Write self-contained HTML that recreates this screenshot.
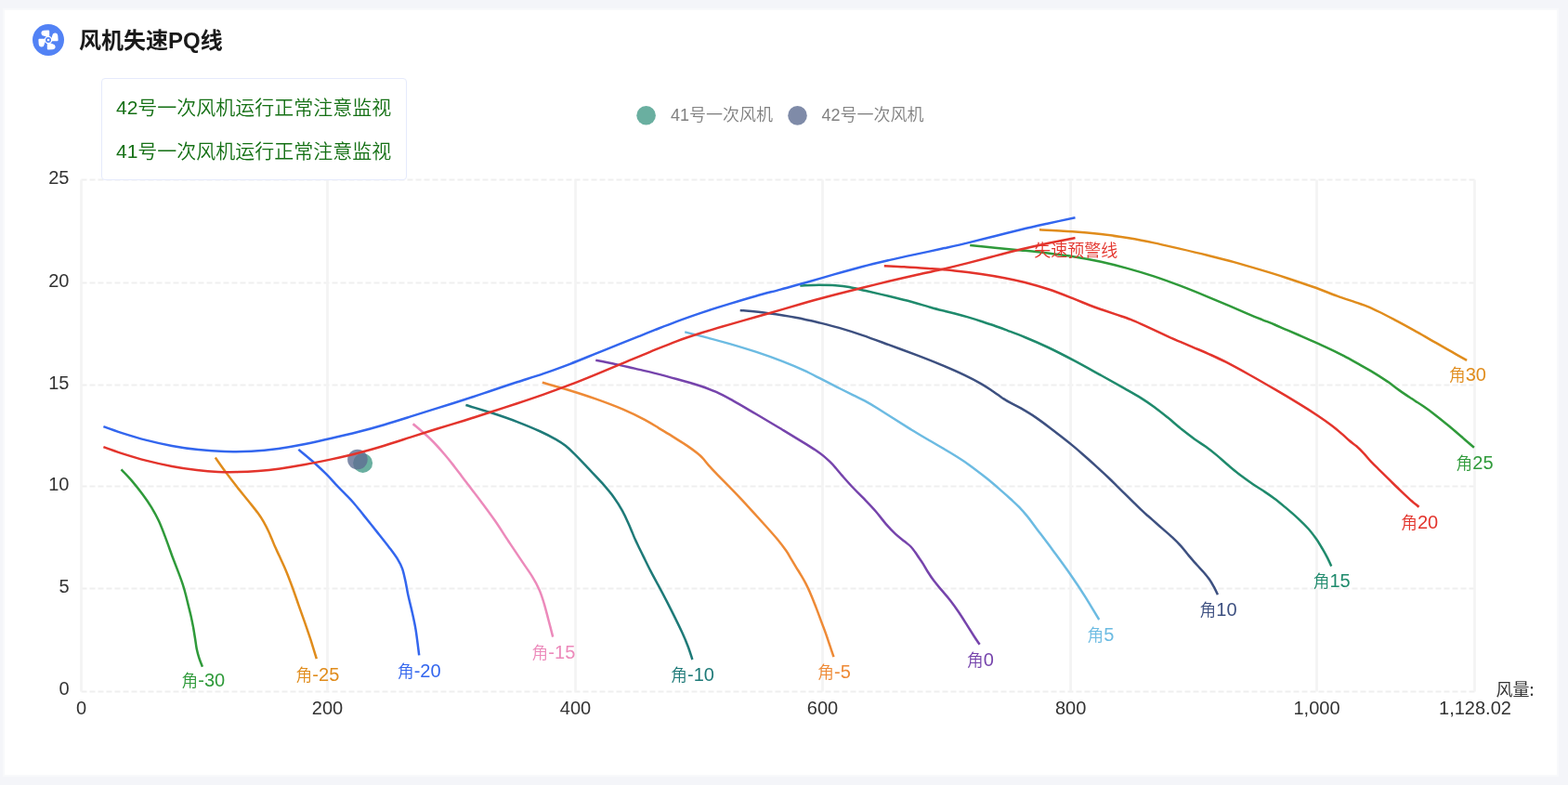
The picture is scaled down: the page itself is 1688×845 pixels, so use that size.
<!DOCTYPE html>
<html><head><meta charset="utf-8"><style>
*{margin:0;padding:0;box-sizing:border-box}
html,body{width:1688px;height:845px;overflow:hidden;background:#f4f5f9}
.card{position:absolute;left:3px;top:9px;width:1675px;height:827px;background:#fff;border:2px solid #f8f9fb}
.title{position:absolute;left:85px;top:27.8px;font:bold 24px/32px "Liberation Sans","Noto Sans CJK SC",sans-serif;color:#1a1a1a;letter-spacing:0}
.warn{position:absolute;left:109px;top:84px;width:328.5px;height:109.5px;border:1.5px solid #e5eafc;border-radius:4px;background:#fff}
.warn div{position:absolute;left:15px;font:350 21px/28px "Liberation Sans","Noto Sans CJK SC",sans-serif;color:#157015;white-space:nowrap}
svg{position:absolute;left:0;top:0}
.ax{font:20px "Liberation Sans","Noto Sans CJK SC",sans-serif;fill:#333}
.axn{font:18px "Noto Sans CJK SC","Liberation Sans",sans-serif;fill:#333}
.lb{font:20px "Liberation Sans","Noto Sans CJK SC",sans-serif}
.lbc{font-size:18px;font-family:"Noto Sans CJK SC","Liberation Sans",sans-serif;font-weight:350}
.lg{font:350 18px "Liberation Sans","Noto Sans CJK SC",sans-serif;fill:#808080}
</style></head><body>
<div class="card"></div>
<svg width="1688" height="845" viewBox="0 0 1688 845">
<circle cx="52" cy="43" r="17" fill="#5282f5"/>
<g fill="#fff" transform="translate(52 43)">
<path d="M1.2 -3.2 L1.2 -9.6 Q1.2 -10.6 0 -10.6 L-4.6 -10.3 Q-7.8 -10 -7.6 -7 Q-7.4 -4.6 -4.6 -4.2 Q-2 -3.9 -1.4 -2.6 Z" transform="rotate(0)"/>
<path d="M1.2 -3.2 L1.2 -9.6 Q1.2 -10.6 0 -10.6 L-4.6 -10.3 Q-7.8 -10 -7.6 -7 Q-7.4 -4.6 -4.6 -4.2 Q-2 -3.9 -1.4 -2.6 Z" transform="rotate(90)"/>
<path d="M1.2 -3.2 L1.2 -9.6 Q1.2 -10.6 0 -10.6 L-4.6 -10.3 Q-7.8 -10 -7.6 -7 Q-7.4 -4.6 -4.6 -4.2 Q-2 -3.9 -1.4 -2.6 Z" transform="rotate(180)"/>
<path d="M1.2 -3.2 L1.2 -9.6 Q1.2 -10.6 0 -10.6 L-4.6 -10.3 Q-7.8 -10 -7.6 -7 Q-7.4 -4.6 -4.6 -4.2 Q-2 -3.9 -1.4 -2.6 Z" transform="rotate(270)"/>
<circle r="4.3"/><circle r="3" fill="#5282f5"/><circle r="1.3"/>
</g>
<line x1="87.5" x2="1587.5" y1="744.5" y2="744.5" stroke="#efefef" stroke-width="2" stroke-dasharray="6 3"/>
<line x1="87.5" x2="1587.5" y1="633.4" y2="633.4" stroke="#efefef" stroke-width="2" stroke-dasharray="6 3"/>
<line x1="87.5" x2="1587.5" y1="523.4" y2="523.4" stroke="#efefef" stroke-width="2" stroke-dasharray="6 3"/>
<line x1="87.5" x2="1587.5" y1="414.4" y2="414.4" stroke="#efefef" stroke-width="2" stroke-dasharray="6 3"/>
<line x1="87.5" x2="1587.5" y1="304.4" y2="304.4" stroke="#efefef" stroke-width="2" stroke-dasharray="6 3"/>
<line x1="87.5" x2="1587.5" y1="193.4" y2="193.4" stroke="#efefef" stroke-width="2" stroke-dasharray="6 3"/>
<line x1="87.5" x2="87.5" y1="193.4" y2="744.5" stroke="#f3f3f3" stroke-width="2.6"/>
<line x1="352.5" x2="352.5" y1="193.4" y2="744.5" stroke="#f3f3f3" stroke-width="2.6"/>
<line x1="619.5" x2="619.5" y1="193.4" y2="744.5" stroke="#f3f3f3" stroke-width="2.6"/>
<line x1="885.5" x2="885.5" y1="193.4" y2="744.5" stroke="#f3f3f3" stroke-width="2.6"/>
<line x1="1152.6" x2="1152.6" y1="193.4" y2="744.5" stroke="#f3f3f3" stroke-width="2.6"/>
<line x1="1417.5" x2="1417.5" y1="193.4" y2="744.5" stroke="#f3f3f3" stroke-width="2.6"/>
<line x1="1587.5" x2="1587.5" y1="193.4" y2="744.5" stroke="#f3f3f3" stroke-width="2.6"/>
<text x="74.5" y="747.5" text-anchor="end" class="ax">0</text>
<text x="74.5" y="637.6" text-anchor="end" class="ax">5</text>
<text x="74.5" y="527.6" text-anchor="end" class="ax">10</text>
<text x="74.5" y="418.6" text-anchor="end" class="ax">15</text>
<text x="74.5" y="308.6" text-anchor="end" class="ax">20</text>
<text x="74.5" y="197.6" text-anchor="end" class="ax">25</text>
<text x="87.5" y="768.7" text-anchor="middle" class="ax">0</text>
<text x="352.5" y="768.7" text-anchor="middle" class="ax">200</text>
<text x="619.5" y="768.7" text-anchor="middle" class="ax">400</text>
<text x="885.5" y="768.7" text-anchor="middle" class="ax">600</text>
<text x="1152.6" y="768.7" text-anchor="middle" class="ax">800</text>
<text x="1417.5" y="768.7" text-anchor="middle" class="ax">1,000</text>
<text x="1588" y="768.7" text-anchor="middle" class="ax">1,128.02</text>
<text x="1610.5" y="748.5" class="axn">风量:</text>
<circle cx="390.6" cy="498.4" r="10.5" fill="#459b88" fill-opacity="0.8"/>
<circle cx="384.9" cy="494.5" r="10.8" fill="#5f6e92" fill-opacity="0.8"/>
<path d="M130.5 505.3C132.5 507.4 138.6 513.6 142.4 518.1C146.2 522.6 150.1 527.5 153.6 532.2C157.1 536.9 160.3 541.5 163.2 546.3C166.1 551.1 168.6 555.6 171.1 561.1C173.6 566.6 175.9 572.8 178.3 579.1C180.7 585.4 183.2 592.7 185.4 598.7C187.7 604.8 189.9 610.4 191.8 615.4C193.7 620.4 195.2 624.4 196.6 628.6C198.0 632.8 199.1 636.8 200.1 640.7C201.1 644.6 201.9 648.0 202.8 651.8C203.7 655.5 204.7 659.2 205.6 663.2C206.5 667.2 207.4 671.9 208.2 676.0C208.9 680.1 209.5 684.0 210.1 687.7C210.7 691.4 211.0 694.8 211.7 698.2C212.4 701.6 213.3 705.0 214.3 708.2C215.3 711.5 217.3 716.1 217.9 717.7" fill="none" stroke="#2f9a3a" stroke-width="2.5" stroke-linejoin="round" stroke-linecap="butt"/>
<path d="M231.8 492.6C233.6 495.1 238.5 502.2 242.3 507.3C246.1 512.4 250.3 517.9 254.5 523.3C258.7 528.7 263.8 534.7 267.6 539.5C271.4 544.3 274.8 548.4 277.5 552.1C280.2 555.8 282.0 558.6 283.9 561.9C285.8 565.2 287.6 568.9 289.1 572.0C290.6 575.1 291.6 577.8 292.8 580.6C294.0 583.4 294.7 585.5 296.1 588.6C297.5 591.7 299.1 594.9 301.0 599.1C302.9 603.3 305.3 608.3 307.6 613.7C309.9 619.1 312.3 625.5 314.6 631.7C316.9 637.9 319.1 644.5 321.3 650.8C323.5 657.1 325.7 663.1 327.9 669.4C330.1 675.7 332.2 681.8 334.4 688.4C336.5 695.0 339.7 705.6 340.8 709.1" fill="none" stroke="#e08c1c" stroke-width="2.5" stroke-linejoin="round" stroke-linecap="butt"/>
<path d="M321.3 483.9C324.2 486.3 333.4 493.8 338.7 498.5C343.9 503.2 348.9 507.9 352.8 511.9C356.7 515.9 359.1 518.9 362.2 522.2C365.3 525.5 368.4 528.4 371.5 531.6C374.6 534.8 377.3 537.4 380.6 541.2C383.9 545.0 387.2 549.3 391.5 554.6C395.8 559.9 401.6 567.2 406.3 573.1C411.0 579.0 415.9 585.1 419.5 589.9C423.1 594.7 425.6 598.0 427.9 601.7C430.1 605.4 431.6 608.0 433.0 611.9C434.4 615.8 435.2 620.0 436.3 624.8C437.4 629.6 438.2 635.3 439.4 640.8C440.6 646.3 442.0 651.4 443.4 657.6C444.8 663.8 446.3 670.1 447.6 678.1C448.9 686.1 450.6 700.9 451.2 705.4" fill="none" stroke="#3366ee" stroke-width="2.5" stroke-linejoin="round" stroke-linecap="butt"/>
<path d="M444.6 456.2C447.7 458.9 457.6 467.0 463.3 472.5C469.0 478.0 474.3 484.1 478.7 489.2C483.1 494.3 485.8 497.9 489.7 502.9C493.6 507.9 497.4 513.1 502.1 519.3C506.8 525.5 512.7 533.0 517.9 540.0C523.1 547.0 528.5 554.2 533.4 561.3C538.3 568.4 542.9 575.8 547.5 582.7C552.1 589.6 556.8 596.6 561.0 602.9C565.2 609.2 569.5 615.0 572.8 620.3C576.1 625.6 578.5 630.0 580.6 634.9C582.8 639.8 584.1 644.3 585.7 649.6C587.3 654.9 588.7 660.7 590.3 666.7C591.9 672.7 594.4 682.5 595.2 685.6" fill="none" stroke="#ec8abb" stroke-width="2.5" stroke-linejoin="round" stroke-linecap="butt"/>
<path d="M501.4 436.0C506.0 437.4 519.6 441.3 528.8 444.3C538.0 447.3 548.0 450.7 556.8 454.1C565.6 457.5 574.8 461.3 581.8 464.5C588.8 467.7 594.2 470.6 598.7 473.1C603.2 475.7 605.4 477.1 608.8 479.8C612.2 482.5 614.8 485.1 618.9 489.1C623.0 493.1 628.2 498.7 633.1 503.9C638.0 509.1 643.8 515.0 648.4 520.2C653.0 525.5 657.3 530.5 660.9 535.4C664.5 540.3 667.5 545.3 670.0 549.9C672.5 554.5 674.5 558.9 676.2 562.7C678.0 566.5 679.3 569.9 680.5 572.8C681.7 575.7 682.4 577.6 683.5 580.0C684.6 582.4 685.4 584.1 686.9 587.3C688.4 590.4 690.4 594.3 692.6 598.9C694.9 603.5 697.6 609.2 700.4 614.6C703.2 620.0 706.4 625.8 709.4 631.3C712.4 636.8 715.3 642.4 718.1 647.9C720.9 653.4 723.7 658.9 726.4 664.4C729.1 669.9 731.8 675.4 734.2 680.6C736.6 685.8 738.7 690.8 740.6 695.7C742.5 700.6 744.6 707.6 745.4 710.0" fill="none" stroke="#1e7a78" stroke-width="2.5" stroke-linejoin="round" stroke-linecap="butt"/>
<path d="M583.8 411.8C588.7 413.2 603.6 417.2 613.3 420.2C623.0 423.2 632.4 426.2 642.0 429.6C651.6 433.0 662.0 436.9 670.7 440.6C679.4 444.3 687.6 448.4 694.1 451.8C700.6 455.2 704.5 458.0 709.6 461.1C714.7 464.2 719.8 467.2 724.9 470.4C730.0 473.6 735.9 477.2 740.2 480.1C744.5 483.0 747.9 485.6 750.6 487.8C753.4 490.0 754.7 491.2 756.7 493.4C758.8 495.6 760.0 497.6 762.9 500.8C765.8 504.1 769.7 508.2 774.2 512.9C778.7 517.5 784.4 523.1 789.7 528.7C795.1 534.3 800.8 540.3 806.3 546.3C811.8 552.3 817.6 558.7 822.8 564.5C828.0 570.3 833.4 576.3 837.3 581.0C841.2 585.7 843.9 589.4 846.3 592.8C848.7 596.2 849.7 598.4 851.5 601.3C853.3 604.2 855.1 607.3 856.9 610.3C858.7 613.3 860.6 616.2 862.3 619.1C864.0 622.0 865.6 624.5 867.3 627.9C869.0 631.3 870.9 635.1 872.7 639.4C874.6 643.7 876.5 648.7 878.4 653.6C880.3 658.5 882.2 663.7 884.0 668.6C885.8 673.5 887.8 678.5 889.4 683.1C891.0 687.7 892.4 692.1 893.8 696.1C895.1 700.1 896.9 705.4 897.5 707.2" fill="none" stroke="#ee8a36" stroke-width="2.5" stroke-linejoin="round" stroke-linecap="butt"/>
<path d="M641.3 387.7C644.9 388.4 656.2 390.6 663.2 392.1C670.2 393.6 676.5 395.1 683.2 396.6C689.9 398.2 695.8 399.5 703.3 401.4C710.8 403.3 720.1 405.7 728.4 408.0C736.7 410.3 746.2 413.0 753.3 415.3C760.4 417.6 765.1 419.3 771.0 421.9C776.9 424.5 781.7 427.2 788.8 431.1C795.9 435.0 804.7 440.3 813.6 445.5C822.5 450.7 833.4 457.3 842.1 462.5C850.8 467.7 859.6 473.1 865.8 476.9C871.9 480.7 875.6 482.9 879.0 485.2C882.4 487.5 883.9 488.6 886.3 490.6C888.7 492.6 891.3 495.0 893.6 497.2C895.9 499.4 897.8 501.6 899.9 504.0C902.0 506.4 903.7 508.6 906.5 511.9C909.3 515.1 913.0 519.4 916.9 523.5C920.8 527.6 925.4 531.9 929.7 536.4C934.0 540.9 938.6 545.6 942.6 550.2C946.6 554.8 950.2 560.0 953.8 564.1C957.4 568.2 960.8 571.8 964.1 574.9C967.4 578.0 971.0 580.5 973.8 582.8C976.5 585.1 978.7 586.5 980.6 588.5C982.5 590.5 983.8 592.4 985.3 594.5C986.8 596.6 988.2 598.8 989.7 600.9C991.2 603.0 992.5 604.9 994.0 607.3C995.5 609.7 996.9 612.5 998.8 615.5C1000.7 618.5 1002.8 621.8 1005.3 625.1C1007.8 628.4 1010.8 631.8 1013.8 635.4C1016.8 639.0 1020.0 642.5 1023.1 646.5C1026.2 650.5 1029.3 654.8 1032.3 659.2C1035.3 663.6 1038.5 668.8 1041.2 673.1C1043.9 677.4 1046.5 681.5 1048.7 685.0C1050.9 688.5 1053.6 692.3 1054.6 693.8" fill="none" stroke="#7644ac" stroke-width="2.5" stroke-linejoin="round" stroke-linecap="butt"/>
<path d="M737.2 357.4C740.8 358.3 750.9 360.8 759.0 362.9C767.1 365.0 776.4 367.4 785.6 370.1C794.8 372.8 804.9 375.8 814.3 378.9C823.7 382.0 833.7 385.6 842.2 388.9C850.7 392.2 858.7 395.6 865.4 398.7C872.1 401.8 876.6 404.2 882.5 407.2C888.4 410.2 894.9 413.6 900.9 416.6C906.9 419.6 913.5 422.8 918.5 425.3C923.5 427.8 926.5 429.1 930.8 431.4C935.1 433.7 939.1 436.1 944.2 439.3C949.3 442.5 955.4 446.4 961.6 450.3C967.8 454.2 974.6 458.5 981.4 462.7C988.2 466.9 995.7 471.2 1002.6 475.3C1009.5 479.4 1016.0 483.0 1022.6 487.0C1029.2 491.0 1035.4 494.8 1041.9 499.4C1048.4 504.0 1055.8 509.8 1061.8 514.6C1067.8 519.4 1073.5 524.4 1077.8 528.1C1082.1 531.8 1084.6 534.0 1087.8 537.0C1091.0 540.0 1094.2 542.8 1097.2 545.9C1100.2 549.0 1102.8 552.0 1106.0 555.9C1109.2 559.8 1111.6 563.3 1116.2 569.4C1120.8 575.5 1127.5 584.2 1133.5 592.4C1139.5 600.6 1146.6 610.2 1152.4 618.5C1158.2 626.8 1163.0 634.0 1168.1 642.1C1173.2 650.2 1180.7 662.9 1183.2 667.0" fill="none" stroke="#6cbbe2" stroke-width="2.5" stroke-linejoin="round" stroke-linecap="butt"/>
<path d="M796.7 334.0C801.8 334.5 817.3 335.9 827.2 337.2C837.1 338.5 847.2 340.0 856.2 341.7C865.2 343.4 873.5 345.3 881.4 347.2C889.2 349.1 895.5 350.6 903.3 352.9C911.1 355.2 919.5 357.8 928.4 360.9C937.3 363.9 947.3 367.7 956.8 371.2C966.3 374.7 975.7 378.1 985.2 381.7C994.7 385.3 1004.7 389.2 1013.6 392.9C1022.5 396.6 1031.4 400.5 1038.5 403.9C1045.6 407.3 1051.1 410.2 1056.2 413.1C1061.3 416.0 1065.5 419.0 1069.3 421.5C1073.1 424.0 1075.8 426.2 1078.8 428.2C1081.8 430.1 1083.6 431.3 1087.0 433.2C1090.4 435.1 1094.8 437.0 1099.4 439.7C1104.0 442.4 1109.6 445.7 1114.7 449.1C1119.8 452.6 1125.3 456.7 1130.2 460.4C1135.1 464.1 1140.1 468.0 1144.2 471.2C1148.3 474.4 1151.2 476.7 1154.7 479.6C1158.2 482.5 1161.1 485.0 1165.3 488.7C1169.5 492.4 1175.4 497.6 1180.0 501.8C1184.6 506.0 1189.4 510.5 1193.1 514.0C1196.8 517.5 1199.1 519.9 1202.1 522.9C1205.1 525.9 1208.2 528.8 1211.3 531.8C1214.3 534.8 1217.6 538.0 1220.4 540.8C1223.2 543.5 1225.8 546.1 1228.1 548.3C1230.4 550.5 1232.0 552.1 1234.2 554.0C1236.4 555.9 1238.2 557.4 1241.0 559.9C1243.8 562.4 1247.7 565.8 1251.2 568.9C1254.8 572.0 1258.9 575.5 1262.3 578.6C1265.7 581.8 1268.5 584.6 1271.4 587.8C1274.3 591.0 1276.8 594.6 1279.6 597.9C1282.4 601.2 1285.5 604.7 1288.2 607.8C1290.9 610.9 1293.7 613.6 1296.0 616.3C1298.3 619.0 1300.2 621.3 1302.0 623.8C1303.8 626.3 1305.1 628.7 1306.6 631.4C1308.1 634.1 1310.2 638.6 1310.9 640.1" fill="none" stroke="#3d5080" stroke-width="2.5" stroke-linejoin="round" stroke-linecap="butt"/>
<path d="M861.3 307.5C864.7 307.4 875.4 306.9 881.7 306.8C888.0 306.8 893.8 306.8 899.2 307.2C904.6 307.6 908.7 308.0 914.2 309.0C919.7 310.0 924.9 311.4 932.0 313.0C939.1 314.6 948.5 316.8 956.8 318.8C965.1 320.8 974.6 323.1 981.7 325.0C988.8 326.9 994.1 328.6 999.4 330.1C1004.7 331.6 1008.9 332.8 1013.6 334.0C1018.3 335.2 1023.1 336.3 1027.8 337.5C1032.5 338.7 1037.3 340.0 1042.0 341.4C1046.7 342.8 1051.3 344.2 1055.9 345.7C1060.5 347.2 1064.9 348.6 1069.7 350.3C1074.5 352.0 1079.0 353.7 1084.6 355.8C1090.2 357.9 1096.0 360.0 1103.3 363.0C1110.6 366.0 1119.5 369.8 1128.4 374.0C1137.3 378.2 1147.3 383.4 1156.8 388.4C1166.2 393.4 1176.2 399.0 1185.1 403.9C1194.0 408.8 1202.9 413.8 1210.1 417.9C1217.3 422.0 1222.8 425.0 1228.2 428.4C1233.6 431.8 1237.6 434.5 1242.4 438.0C1247.2 441.5 1252.3 445.6 1257.3 449.6C1262.3 453.7 1267.6 458.5 1272.4 462.3C1277.2 466.1 1281.7 469.6 1286.0 472.7C1290.3 475.8 1294.0 477.9 1298.0 480.8C1302.0 483.7 1305.9 486.7 1310.0 490.1C1314.1 493.5 1318.5 497.7 1322.8 501.3C1327.1 504.9 1331.3 508.5 1335.7 511.8C1340.1 515.1 1344.6 518.3 1348.9 521.2C1353.2 524.1 1357.7 526.9 1361.5 529.4C1365.3 531.9 1368.0 533.8 1371.7 536.5C1375.4 539.2 1379.1 542.3 1383.4 545.9C1387.7 549.5 1393.2 554.2 1397.4 558.1C1401.6 562.0 1405.5 565.9 1408.8 569.5C1412.0 573.1 1414.4 576.5 1416.9 580.0C1419.4 583.5 1421.6 587.3 1423.6 590.7C1425.6 594.1 1427.5 597.5 1429.1 600.6C1430.7 603.7 1432.5 608.0 1433.2 609.5" fill="none" stroke="#1f8a6c" stroke-width="2.5" stroke-linejoin="round" stroke-linecap="butt"/>
<path d="M951.8 286.2C955.4 286.4 965.4 286.8 973.3 287.3C981.2 287.8 990.3 288.3 999.4 289.0C1008.5 289.7 1018.3 290.4 1027.8 291.4C1037.3 292.4 1047.3 293.7 1056.2 295.0C1065.1 296.3 1073.6 297.7 1081.4 299.2C1089.2 300.7 1095.5 302.0 1103.3 304.0C1111.1 306.0 1119.9 308.5 1128.4 311.3C1136.9 314.1 1146.8 318.0 1154.2 320.9C1161.6 323.8 1167.5 326.4 1172.8 328.5C1178.1 330.6 1181.4 331.7 1186.1 333.3C1190.8 334.9 1196.0 336.6 1201.2 338.4C1206.4 340.2 1211.8 341.8 1217.2 343.9C1222.6 346.0 1226.8 348.1 1233.6 351.2C1240.3 354.3 1249.5 358.6 1257.7 362.3C1265.9 366.0 1275.6 370.0 1282.8 373.1C1290.0 376.2 1294.6 378.0 1300.8 380.8C1307.0 383.6 1312.3 385.9 1319.7 389.7C1327.1 393.5 1336.2 398.5 1345.2 403.5C1354.2 408.5 1364.5 414.5 1373.4 419.7C1382.4 424.9 1391.4 430.3 1398.9 434.9C1406.5 439.5 1412.9 443.6 1418.7 447.5C1424.5 451.4 1429.5 454.9 1433.9 458.2C1438.3 461.5 1441.9 464.7 1445.0 467.4C1448.1 470.1 1450.0 472.1 1452.6 474.3C1455.1 476.5 1457.7 478.1 1460.3 480.3C1462.9 482.6 1465.4 485.1 1468.0 487.8C1470.6 490.5 1473.1 493.9 1475.7 496.6C1478.3 499.4 1480.8 501.8 1483.4 504.3C1486.0 506.8 1488.5 509.3 1491.1 511.8C1493.7 514.3 1496.2 516.9 1498.8 519.5C1501.4 522.1 1503.9 524.4 1506.9 527.3C1509.9 530.2 1513.6 533.7 1517.0 536.8C1520.4 539.9 1525.8 544.3 1527.5 545.8" fill="none" stroke="#e3342c" stroke-width="2.5" stroke-linejoin="round" stroke-linecap="butt"/>
<path d="M1044.2 264.1C1048.7 264.5 1061.8 265.8 1071.0 266.7C1080.2 267.6 1089.6 268.4 1099.1 269.4C1108.6 270.4 1118.5 271.4 1128.1 272.6C1137.7 273.8 1147.3 275.0 1156.8 276.5C1166.3 278.0 1175.7 279.7 1185.2 281.8C1194.7 283.9 1204.1 286.3 1213.6 288.9C1223.1 291.5 1232.5 294.3 1242.0 297.4C1251.5 300.5 1261.2 304.1 1270.7 307.7C1280.2 311.3 1290.2 315.4 1299.2 319.1C1308.2 322.8 1317.0 326.6 1324.4 329.7C1331.8 332.8 1337.8 335.4 1343.4 337.8C1349.0 340.2 1353.3 341.9 1358.1 343.8C1362.9 345.8 1367.6 347.5 1372.3 349.5C1377.0 351.5 1381.5 353.6 1386.5 355.7C1391.5 357.8 1396.8 360.1 1402.0 362.3C1407.2 364.6 1412.4 366.9 1417.4 369.2C1422.4 371.5 1427.1 373.6 1432.0 375.9C1436.9 378.2 1441.9 380.6 1446.8 383.2C1451.7 385.8 1456.1 388.3 1461.3 391.2C1466.5 394.1 1472.4 397.3 1477.9 400.6C1483.4 403.9 1489.5 407.9 1494.3 411.1C1499.0 414.4 1502.2 417.2 1506.4 420.1C1510.6 423.1 1515.0 426.0 1519.2 428.8C1523.5 431.6 1527.8 434.2 1531.9 437.1C1536.1 440.0 1539.4 442.3 1544.1 445.9C1548.8 449.5 1554.6 454.2 1559.8 458.5C1565.0 462.8 1570.6 467.7 1575.1 471.6C1579.6 475.5 1584.9 480.1 1586.9 481.8" fill="none" stroke="#2f9a3a" stroke-width="2.5" stroke-linejoin="round" stroke-linecap="butt"/>
<path d="M1119.0 247.3C1124.9 247.6 1143.5 248.5 1154.5 249.3C1165.5 250.1 1175.4 251.0 1185.2 252.1C1195.0 253.2 1204.1 254.6 1213.6 256.1C1223.1 257.7 1232.5 259.4 1242.0 261.4C1251.5 263.4 1261.1 265.7 1270.7 267.9C1280.3 270.1 1290.1 272.4 1299.7 274.8C1309.3 277.2 1318.9 279.5 1328.4 282.1C1337.9 284.7 1347.3 287.5 1356.8 290.4C1366.3 293.2 1375.8 296.1 1385.2 299.2C1394.6 302.3 1404.4 305.6 1413.4 308.8C1422.5 312.0 1431.9 315.8 1439.5 318.6C1447.1 321.4 1453.8 323.5 1459.2 325.4C1464.6 327.3 1467.6 328.0 1472.0 329.8C1476.4 331.6 1480.1 333.4 1485.4 336.0C1490.7 338.6 1497.2 342.1 1504.0 345.7C1510.8 349.3 1518.9 353.8 1525.9 357.7C1532.9 361.6 1539.9 365.7 1546.1 369.2C1552.2 372.7 1557.3 375.6 1562.8 378.7C1568.3 381.8 1576.4 386.4 1579.1 387.9" fill="none" stroke="#e08c1c" stroke-width="2.5" stroke-linejoin="round" stroke-linecap="butt"/>
<path d="M111.4 459.2C114.7 460.4 123.7 463.7 131.3 466.1C138.9 468.5 147.8 471.3 156.8 473.6C165.8 475.9 175.7 478.2 185.2 480.0C194.7 481.8 204.1 483.1 213.6 484.1C223.1 485.1 232.5 485.8 242.0 486.1C251.5 486.4 261.1 486.2 270.7 485.7C280.3 485.2 290.1 484.2 299.7 482.9C309.3 481.6 318.9 479.9 328.4 478.0C337.9 476.1 347.3 474.0 356.8 471.8C366.3 469.6 375.7 467.4 385.2 465.0C394.7 462.6 404.1 460.0 413.6 457.2C423.1 454.4 432.5 451.4 442.0 448.4C451.5 445.4 461.1 442.4 470.7 439.4C480.3 436.4 490.1 433.4 499.7 430.3C509.3 427.2 518.9 423.9 528.4 420.7C537.9 417.5 547.3 414.4 556.8 411.3C566.3 408.2 575.7 405.4 585.2 402.1C594.7 398.9 604.1 395.4 613.6 391.8C623.1 388.2 632.8 384.1 642.0 380.4C651.2 376.7 661.0 372.7 668.7 369.6C676.5 366.5 682.5 364.2 688.5 361.8C694.5 359.4 698.4 357.8 705.0 355.2C711.6 352.6 719.8 349.3 728.4 346.1C737.0 342.9 747.3 339.3 756.8 336.1C766.3 332.9 775.7 330.0 785.2 327.1C794.7 324.2 804.4 321.3 813.6 318.7C822.8 316.1 831.4 314.0 840.3 311.6C849.2 309.2 857.6 307.0 867.2 304.3C876.8 301.6 887.7 298.3 897.9 295.4C908.1 292.5 918.6 289.6 928.4 287.0C938.2 284.4 947.3 282.3 956.8 280.1C966.3 277.9 975.7 275.9 985.2 273.9C994.7 271.8 1004.1 269.9 1013.6 267.8C1023.1 265.7 1032.5 263.7 1042.0 261.4C1051.5 259.1 1061.1 256.6 1070.7 254.2C1080.3 251.8 1090.1 249.3 1099.7 247.0C1109.3 244.7 1119.0 242.6 1128.6 240.5C1138.2 238.4 1152.7 235.2 1157.5 234.2" fill="none" stroke="#3366ee" stroke-width="2.5" stroke-linejoin="round" stroke-linecap="butt"/>
<path d="M111.4 481.2C114.7 482.4 123.7 485.7 131.3 488.1C138.9 490.5 147.8 493.3 156.8 495.6C165.8 497.9 176.0 500.2 185.2 502.0C194.4 503.8 203.6 505.1 211.9 506.1C220.2 507.1 227.5 507.7 234.9 508.0C242.3 508.3 249.0 508.3 256.2 508.1C263.3 507.9 270.2 507.5 277.8 506.9C285.4 506.3 293.1 505.5 301.5 504.4C309.9 503.3 319.2 501.8 328.4 500.1C337.6 498.4 347.3 496.4 356.8 494.4C366.3 492.3 375.7 490.2 385.2 487.8C394.7 485.4 404.1 482.7 413.6 479.8C423.1 476.9 432.5 473.7 442.0 470.6C451.5 467.6 461.1 464.5 470.7 461.5C480.3 458.5 490.1 455.7 499.7 452.7C509.3 449.7 518.9 446.6 528.4 443.5C537.9 440.4 547.3 437.3 556.8 434.2C566.3 431.1 575.7 427.9 585.2 424.6C594.7 421.3 604.1 417.8 613.6 414.2C623.1 410.6 632.5 406.7 642.0 402.8C651.5 398.9 661.1 394.9 670.7 390.9C680.3 386.9 690.1 382.7 699.7 378.8C709.3 374.9 718.9 370.8 728.4 367.3C737.9 363.8 747.3 360.8 756.8 357.8C766.3 354.8 775.7 352.1 785.2 349.4C794.7 346.6 804.1 344.0 813.6 341.3C823.1 338.6 832.5 335.9 842.0 333.1C851.5 330.4 861.1 327.5 870.7 324.8C880.3 322.1 890.1 319.5 899.7 317.0C909.3 314.5 918.9 312.2 928.4 309.8C937.9 307.4 947.3 305.1 956.8 302.8C966.3 300.5 975.7 298.3 985.2 296.2C994.7 294.1 1004.1 292.2 1013.6 290.0C1023.1 287.8 1032.5 285.5 1042.0 283.1C1051.5 280.7 1061.1 278.1 1070.7 275.6C1080.3 273.1 1090.1 270.6 1099.7 268.3C1109.3 266.0 1119.0 263.8 1128.6 261.7C1138.2 259.6 1152.7 256.9 1157.5 256.0" fill="none" stroke="#e3342c" stroke-width="2.5" stroke-linejoin="round" stroke-linecap="butt"/>
<text x="218.7" y="739.0" text-anchor="middle" class="lb" fill="#2f9a3a"><tspan class="lbc">角</tspan>-30</text>
<text x="341.8" y="732.6" text-anchor="middle" class="lb" fill="#e08c1c"><tspan class="lbc">角</tspan>-25</text>
<text x="451.1" y="729.2" text-anchor="middle" class="lb" fill="#3366ee"><tspan class="lbc">角</tspan>-20</text>
<text x="595.8" y="709.1" text-anchor="middle" class="lb" fill="#ec8abb"><tspan class="lbc">角</tspan>-15</text>
<text x="745.5" y="733.2" text-anchor="middle" class="lb" fill="#1e7a78"><tspan class="lbc">角</tspan>-10</text>
<text x="898.0" y="729.7" text-anchor="middle" class="lb" fill="#ee8a36"><tspan class="lbc">角</tspan>-5</text>
<text x="1055.3" y="716.8" text-anchor="middle" class="lb" fill="#7644ac"><tspan class="lbc">角</tspan>0</text>
<text x="1184.8" y="690.3" text-anchor="middle" class="lb" fill="#6cbbe2"><tspan class="lbc">角</tspan>5</text>
<text x="1311.4" y="663.2" text-anchor="middle" class="lb" fill="#3d5080"><tspan class="lbc">角</tspan>10</text>
<text x="1433.6" y="631.5" text-anchor="middle" class="lb" fill="#1f8a6c"><tspan class="lbc">角</tspan>15</text>
<text x="1528.0" y="568.7" text-anchor="middle" class="lb" fill="#e3342c"><tspan class="lbc">角</tspan>20</text>
<text x="1587.4" y="504.7" text-anchor="middle" class="lb" fill="#2f9a3a"><tspan class="lbc">角</tspan>25</text>
<text x="1579.8" y="409.5" text-anchor="middle" class="lb" fill="#e08c1c"><tspan class="lbc">角</tspan>30</text>
<text x="1158.3" y="276.2" text-anchor="middle" class="lbc" fill="#e3342c">失速预警线</text>
<circle cx="695.6" cy="124.3" r="10.3" fill="#459b88" fill-opacity="0.8"/>
<text x="722" y="129.6" class="lg">41号一次风机</text>
<circle cx="858.5" cy="124.4" r="10.3" fill="#5f6e92" fill-opacity="0.8"/>
<text x="884.5" y="129.6" class="lg">42号一次风机</text>
</svg>
<div class="title">风机失速PQ线</div>
<div class="warn"><div style="top:16.5px">42号一次风机运行正常注意监视</div><div style="top:63.5px">41号一次风机运行正常注意监视</div></div>
</body></html>
